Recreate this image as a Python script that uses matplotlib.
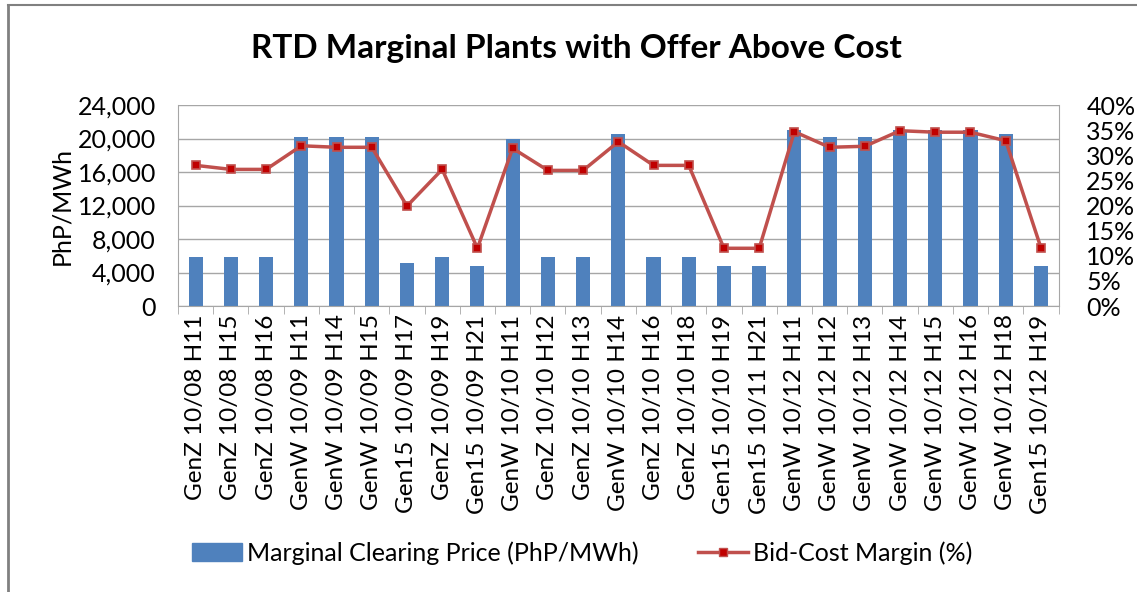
import matplotlib.pyplot as plt
import numpy as np
from matplotlib.ticker import FuncFormatter, FixedLocator
from matplotlib.lines import Line2D
from matplotlib.patches import Patch

plt.rcParams['font.family'] = ['Lato', 'DejaVu Sans']

# 类别与数据
labels = ['GenZ 10/08 H11', 'GenZ 10/08 H15', 'GenZ 10/08 H16', 'GenW 10/09 H11',
          'GenW 10/09 H14', 'GenW 10/09 H15', 'Gen15 10/09 H17', 'GenZ 10/09 H19',
          'Gen15 10/09 H21', 'GenW 10/10 H11', 'GenZ 10/10 H12', 'GenZ 10/10 H13',
          'GenW 10/10 H14', 'GenZ 10/10 H16', 'GenZ 10/10 H18', 'Gen15 10/10 H19',
          'Gen15 10/11 H21', 'GenW 10/12 H11', 'GenW 10/12 H12', 'GenW 10/12 H13',
          'GenW 10/12 H14', 'GenW 10/12 H15', 'GenW 10/12 H16', 'GenW 10/12 H18',
          'Gen15 10/12 H19']
price = [5800, 5800, 5800, 20150, 20150, 20150, 5170, 5800, 4740, 20000,
         5800, 5800, 20540, 5800, 5800, 4740, 4740, 21000, 20220, 20220,
         21000, 21000, 21000, 20540, 4740]
margin = [28.0, 27.2, 27.2, 31.9, 31.6, 31.6, 19.9, 27.2, 11.5, 31.4,
          27.0, 27.0, 32.7, 28.0, 28.0, 11.5, 11.5, 34.7, 31.6, 31.8,
          34.9, 34.6, 34.6, 32.9, 11.6]

bar_color = '#4F81BD'
line_color = '#C0504D'
grid_color = '#A6A6A6'

fig = plt.figure(figsize=(11.37, 5.92), dpi=100)
ax = fig.add_axes([0.1566, 0.483, 0.7744, 0.3395])
x = np.arange(len(labels))

ax.bar(x, price, width=0.4, color=bar_color, zorder=2)
ax.set_xlim(-0.5, len(labels) - 0.5)
ax.set_ylim(0, 24000)
ax.set_yticks(np.arange(0, 24001, 4000))
ax.yaxis.set_major_formatter(FuncFormatter(lambda v, p: f'{int(v):,}'))
ax.grid(axis='y', color=grid_color, linewidth=1, zorder=0)
ax.set_axisbelow(True)
ax.set_xticks(x)
ax.set_xticklabels(labels, rotation=90, fontsize=17.5)
ax.xaxis.set_minor_locator(FixedLocator(np.arange(-0.5, len(labels), 1)))
ax.tick_params(axis='x', which='major', length=0, pad=6)
ax.tick_params(axis='x', which='minor', length=6, color=grid_color)
ax.tick_params(axis='y', length=0, labelsize=18, pad=16)
ax.set_ylabel('PhP/MWh', fontsize=18, labelpad=3)
for s in ['top', 'right']:
    ax.spines[s].set_visible(False)
ax.spines['left'].set_color(grid_color)
ax.spines['bottom'].set_color(grid_color)

ax2 = ax.twinx()
ax2.plot(x, margin, color=line_color, linewidth=2.5, marker='s', markersize=6,
         markerfacecolor='#C00000', markeredgecolor=line_color, markeredgewidth=1.2, zorder=3)
ax2.set_ylim(0, 40)
ax2.set_yticks(np.arange(0, 41, 5))
ax2.yaxis.set_major_formatter(FuncFormatter(lambda v, p: f'{int(v)}%'))
ax2.tick_params(axis='y', length=0, labelsize=18, pad=20)
for s in ['top', 'left', 'bottom']:
    ax2.spines[s].set_visible(False)
ax2.spines['right'].set_color(grid_color)

fig.text(0.507, 0.918, 'RTD Marginal Plants with Offer Above Cost', ha='center', va='center',
         fontsize=24, fontweight='bold')

handles = [Patch(facecolor=bar_color, edgecolor=bar_color),
           Line2D([0], [0], color=line_color, linewidth=2.5, marker='s', markersize=6,
                  markerfacecolor='#C00000', markeredgecolor=line_color)]
fig.legend(handles, ['Marginal Clearing Price (PhP/MWh)', 'Bid-Cost Margin (%)'],
           loc='center', bbox_to_anchor=(0.512, 0.066), ncol=2, frameon=False,
           fontsize=18, handlelength=2.0, handletextpad=0.2, columnspacing=2.36)

# 外框
fig.add_artist(Line2D([0.007, 0.007], [0.0, 0.992], color='#808080', linewidth=2))
fig.add_artist(Line2D([0.007, 1.0], [0.992, 0.992], color='#808080', linewidth=1.5))

fig.savefig('out.png', dpi=100)
